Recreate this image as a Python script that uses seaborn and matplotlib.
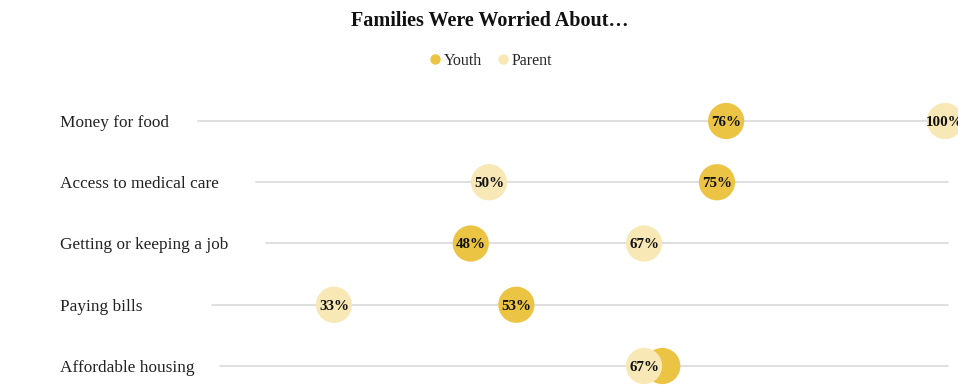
import seaborn as sns
import matplotlib.pyplot as plt
import pandas as pd

# values
categories = ["Money for food", "Access to medical care", "Getting or keeping a job",
              "Paying bills", "Affordable housing"]
youth = [76, 75, 48, 53, 69]
parent = [100, 50, 67, 33, 67]
show_youth_label = [True, True, True, True, False]

# where each grey guide line starts (in % units, as in the reference)
line_start = [18.1, 24.5, 25.5, 19.6, 20.5]

youth_color = "#ECC443"
parent_color = "#F8E8B5"

rows = []
for i, c in enumerate(categories):
    rows.append({"cat": c, "row": i, "pct": youth[i], "group": "Youth", "show": show_youth_label[i]})
for i, c in enumerate(categories):
    rows.append({"cat": c, "row": i, "pct": parent[i], "group": "Parent", "show": True})
data = pd.DataFrame(rows)

sns.set_theme(style="white")
plt.rcParams['font.family'] = ['Liberation Serif', 'DejaVu Serif']

W, H = 958, 391
fig = plt.figure(figsize=(W / 100, H / 100), dpi=100)
ax = fig.add_axes([0, 0, 1, 1])

# pixel mapping: 0% at x=33px, 100% at x=945px; row 0 at y=121px, 61.25px per row
px_per_pct = 9.12
x0 = -33 / px_per_pct
ax.set_xlim(x0, x0 + W / px_per_pct)
row_px = 61.25
ax.set_ylim(4 + (H - 366) / row_px, -121 / row_px)
ax.axis("off")

# category labels
label_x = (60 - 33) / px_per_pct
for i, c in enumerate(categories):
    ax.text(label_x, i, c, fontsize=12.4, color="#222222", ha="left", va="center_baseline")

line_end = (948 - 33) / px_per_pct
for i in range(len(categories)):
    ax.plot([line_start[i], line_end], [i, i], color="#D9D9D9", lw=1.2, zorder=1)

sns.scatterplot(data=data, x="pct", y="row", hue="group",
                palette={"Youth": youth_color, "Parent": parent_color},
                s=680, linewidth=0, legend=False, ax=ax, zorder=2)

for _, r in data.iterrows():
    if r["show"]:
        ax.text(r["pct"], r["row"], f"{r['pct']}%", fontsize=10.8, fontweight="bold",
                color="#111111", ha="center", va="center_baseline", zorder=3)

cx = 490 / W
fig.text(cx, 1 - 21 / H, "Families Were Worried About\u2026", ha="center", va="center",
         fontsize=14.5, fontweight="bold", color="#111111")

handles = [plt.Line2D([], [], marker="o", ls="", color=youth_color, markersize=6.5),
           plt.Line2D([], [], marker="o", ls="", color=parent_color, markersize=6.5)]
fig.legend(handles, ["Youth", "Parent"], loc="center", bbox_to_anchor=(cx, 1 - 61 / H),
           ncol=2, frameon=False, fontsize=11.5, handletextpad=0.05, columnspacing=0.8,
           handlelength=1.0)

fig.savefig("out.png", dpi=100)
